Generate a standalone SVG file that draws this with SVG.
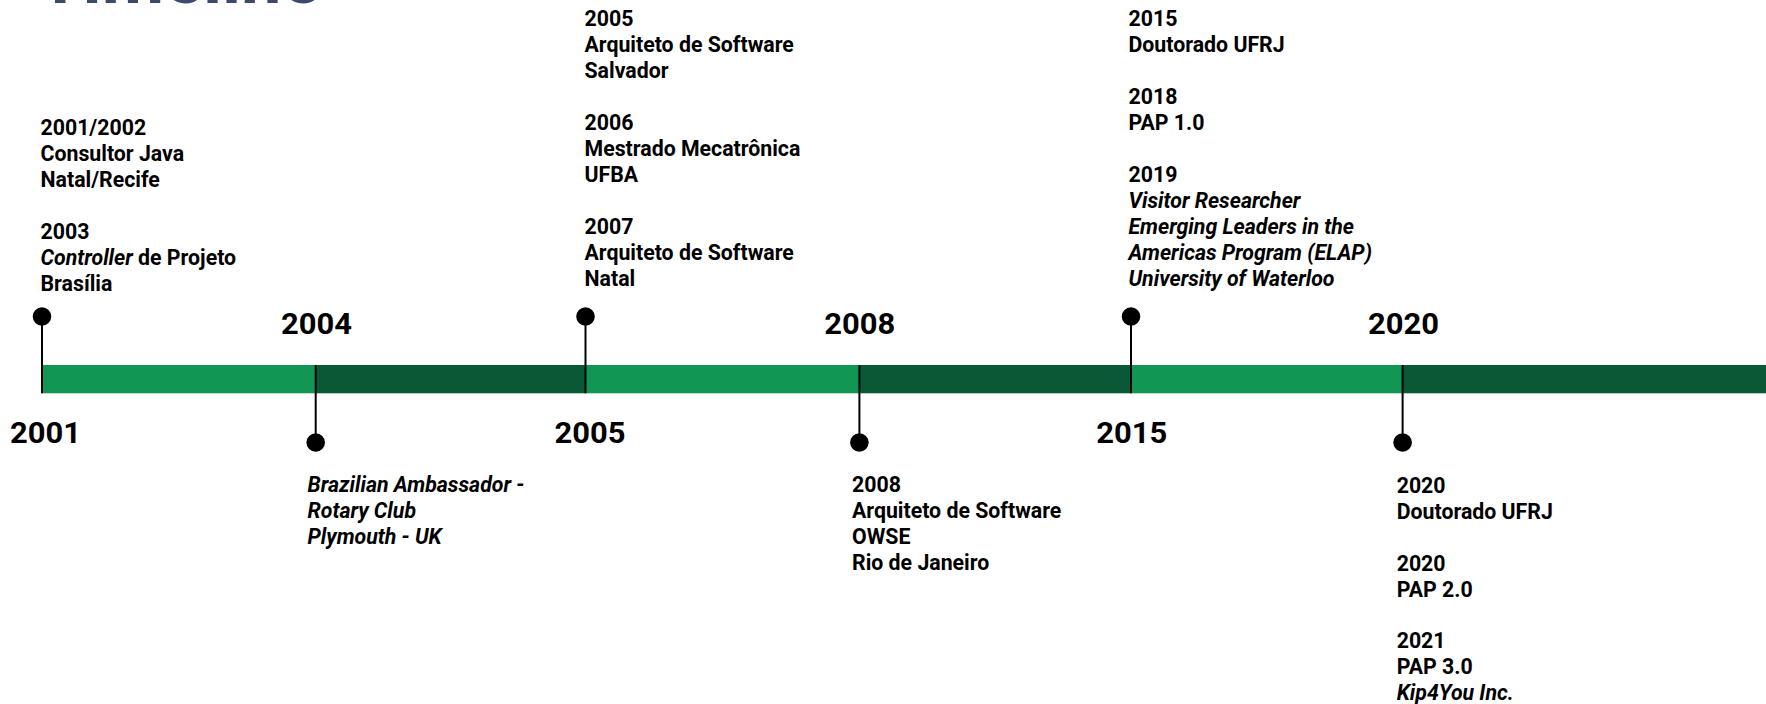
<svg xmlns="http://www.w3.org/2000/svg" width="1766" height="704" viewBox="0 0 1766 704">
<style>
.t{font-family:Roboto,"Liberation Sans",sans-serif;font-weight:700;font-size:21.3px;fill:#000}
.i{font-style:italic}
.yr{font-family:Roboto,"Liberation Sans",sans-serif;font-weight:700;font-size:30px;fill:#000;text-anchor:middle}
.title{font-family:Roboto,"Liberation Sans",sans-serif;font-weight:700;font-size:72px;fill:#3c4a6b}
.light{fill:#129653}
.dark{fill:#0a5835}
.pin{stroke:#000;stroke-width:2;fill:none}
.dot{fill:#000}
</style>
<rect width="1766" height="704" fill="#fff"/>
<text class="title" x="38" y="3">Timeline</text>
<g id="bar">
<rect class="light" x="42" y="365" width="274" height="28.3"/>
<rect class="dark" x="315.7" y="365" width="270" height="28.3"/>
<rect class="light" x="585.5" y="365" width="274" height="28.3"/>
<rect class="dark" x="859.4" y="365" width="272" height="28.3"/>
<rect class="light" x="1131" y="365" width="272" height="28.3"/>
<rect class="dark" x="1402.6" y="365" width="364" height="28.3"/>
</g>
<g id="connectors">
<line class="pin" x1="42" y1="316.5" x2="42" y2="393.3"/>
<line class="pin" x1="585.5" y1="316.5" x2="585.5" y2="393.3"/>
<line class="pin" x1="1131" y1="316.5" x2="1131" y2="393.3"/>
<line class="pin" x1="315.7" y1="365" x2="315.7" y2="442.5"/>
<line class="pin" x1="859.4" y1="365" x2="859.4" y2="442.5"/>
<line class="pin" x1="1402.6" y1="365" x2="1402.6" y2="442.5"/>
<circle class="dot" cx="42" cy="316.5" r="9.3"/>
<circle class="dot" cx="585.5" cy="316.5" r="9.3"/>
<circle class="dot" cx="1131" cy="316.5" r="9.3"/>
<circle class="dot" cx="315.7" cy="442.5" r="9.3"/>
<circle class="dot" cx="859.4" cy="442.5" r="9.3"/>
<circle class="dot" cx="1402.6" cy="442.5" r="9.3"/>
</g>
<g id="years">
<text class="yr" x="45.5" y="443" textLength="71" lengthAdjust="spacingAndGlyphs">2001</text>
<text class="yr" x="316.5" y="334" textLength="71" lengthAdjust="spacingAndGlyphs">2004</text>
<text class="yr" x="590" y="443" textLength="71" lengthAdjust="spacingAndGlyphs">2005</text>
<text class="yr" x="859.7" y="334" textLength="71" lengthAdjust="spacingAndGlyphs">2008</text>
<text class="yr" x="1131.7" y="443" textLength="71" lengthAdjust="spacingAndGlyphs">2015</text>
<text class="yr" x="1403.5" y="334" textLength="71" lengthAdjust="spacingAndGlyphs">2020</text>
</g>
<g id="node-2001">
<text class="t"><tspan x="40.5" y="134.5">2001/2002</tspan><tspan x="40.5" y="161">Consultor Java</tspan><tspan x="40.5" y="187">Natal/Recife</tspan><tspan x="40.5" y="239">2003</tspan><tspan x="40.5" y="265"><tspan class="i">Controller</tspan> de Projeto</tspan><tspan x="40.5" y="291">Brasília</tspan></text>
</g>
<g id="node-2005">
<text class="t"><tspan x="584.5" y="26">2005</tspan><tspan x="584.5" y="52">Arquiteto de Software</tspan><tspan x="584.5" y="78">Salvador</tspan><tspan x="584.5" y="130">2006</tspan><tspan x="584.5" y="156">Mestrado Mecatrônica</tspan><tspan x="584.5" y="182">UFBA</tspan><tspan x="584.5" y="234">2007</tspan><tspan x="584.5" y="260">Arquiteto de Software</tspan><tspan x="584.5" y="286">Natal</tspan></text>
</g>
<g id="node-2015">
<text class="t"><tspan x="1128.5" y="26">2015</tspan><tspan x="1128.5" y="52">Doutorado UFRJ</tspan><tspan x="1128.5" y="104">2018</tspan><tspan x="1128.5" y="130">PAP 1.0</tspan><tspan x="1128.5" y="182">2019</tspan><tspan class="i" x="1128.5" y="208">Visitor Researcher</tspan><tspan class="i" x="1128.5" y="234">Emerging Leaders in the</tspan><tspan class="i" x="1128.5" y="260">Americas Program (ELAP)</tspan><tspan class="i" x="1128.5" y="286">University of Waterloo</tspan></text>
</g>
<g id="node-2004">
<text class="t i"><tspan x="307.5" y="492">Brazilian Ambassador -</tspan><tspan x="307.5" y="518">Rotary Club</tspan><tspan x="307.5" y="544">Plymouth - UK</tspan></text>
</g>
<g id="node-2008">
<text class="t"><tspan x="852" y="492">2008</tspan><tspan x="852" y="518">Arquiteto de Software</tspan><tspan x="852" y="544">OWSE</tspan><tspan x="852" y="570">Rio de Janeiro</tspan></text>
</g>
<g id="node-2020">
<text class="t"><tspan x="1396.7" y="493">2020</tspan><tspan x="1396.7" y="519">Doutorado UFRJ</tspan><tspan x="1396.7" y="571">2020</tspan><tspan x="1396.7" y="597">PAP 2.0</tspan><tspan x="1396.7" y="648">2021</tspan><tspan x="1396.7" y="674">PAP 3.0</tspan><tspan class="i" x="1396.7" y="700">Kip4You Inc.</tspan></text>
</g>
</svg>
